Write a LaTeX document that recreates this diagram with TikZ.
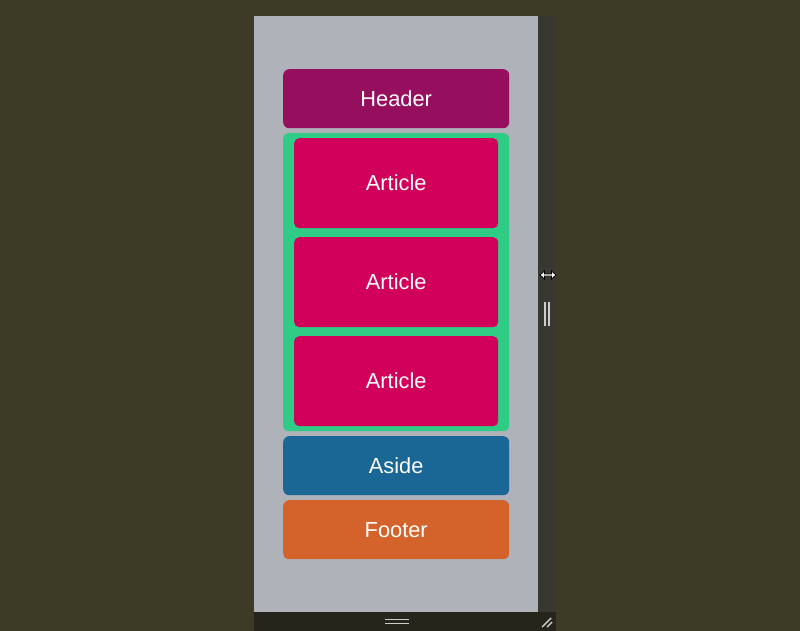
\documentclass[tikz,border=0pt]{standalone}
\usepackage{fontspec}
\setmainfont{Liberation Sans}
\usetikzlibrary{arrows.meta}
\definecolor{bgolive}{HTML}{3D3B25}
\definecolor{panelgray}{HTML}{B0B2BA}
\definecolor{sidestrip}{HTML}{393830}
\definecolor{bottombar}{HTML}{26251B}
\definecolor{headcol}{HTML}{960F5E}
\definecolor{maincol}{HTML}{2ECC85}
\definecolor{artcol}{HTML}{D1005A}
\definecolor{asidecol}{HTML}{1A6694}
\definecolor{footcol}{HTML}{D3632B}

\begin{document}
\begin{tikzpicture}[
  x=1pt, y=-1pt,
  area/.style={rounded corners=6pt, text=white, font=\fontsize{21.8}{26}\selectfont},
  grip/.style={draw=gray!40!white, line width=1.8pt},
]
% backdrop
\fill[bgolive] (0,0) rectangle (800,631);
\useasboundingbox (0,0) rectangle (800,631);
\fill[panelgray] (254,16) rectangle (538,612);
\fill[sidestrip] (538,16) rectangle (556,612);
\fill[bottombar] (254,612) rectangle (556,631);

% layout boxes
\node[area, fill=headcol, minimum width=226pt, minimum height=59pt, anchor=north west] (header) at (283,69) {Header};
\node[area, fill=maincol, minimum width=226pt, minimum height=298pt, anchor=north west, rounded corners=5pt] (main) at (283,133) {};
\node[area, fill=artcol, minimum width=204pt, minimum height=90pt, anchor=north west, rounded corners=5pt] (art1) at (294,138) {Article};
\node[area, fill=artcol, minimum width=204pt, minimum height=90pt, anchor=north west, rounded corners=5pt] (art2) at (294,237) {Article};
\node[area, fill=artcol, minimum width=204pt, minimum height=90pt, anchor=north west, rounded corners=5pt] (art3) at (294,336) {Article};
\node[area, fill=asidecol, minimum width=226pt, minimum height=59pt, anchor=north west] (aside) at (283,436) {Aside};
\node[area, fill=footcol, minimum width=226pt, minimum height=59pt, anchor=north west] (footer) at (283,500) {Footer};

% resize handles
\filldraw[fill=white, draw=black, line width=0.8pt, line join=miter]
  (540,275) -- (544.5,271) -- (544.5,274) -- (551.5,274) -- (551.5,271) -- (556,275)
  -- (551.5,279) -- (551.5,276) -- (544.5,276) -- (544.5,279) -- cycle;
\draw[grip] (545,302) -- (545,326) (549,302) -- (549,326);
\draw[grip] (385,619.5) -- (409,619.5) (385,623.5) -- (409,623.5);
\draw[grip, line width=1.4pt] (542,627) -- (551,618) (547,627) -- (552,622);
\end{tikzpicture}
\end{document}
